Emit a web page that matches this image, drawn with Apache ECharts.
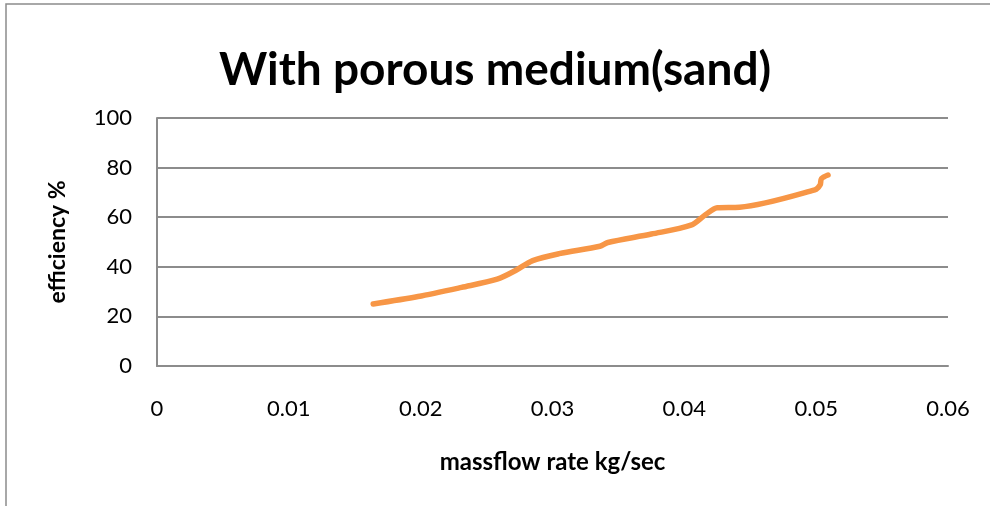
<!DOCTYPE html>
<html>
<head>
<meta charset="utf-8">
<script src="https://cdn.jsdelivr.net/npm/echarts@6/dist/echarts.min.js"></script>
<style>
  html, body { margin: 0; padding: 0; background: #fff; }
  #main { width: 990px; height: 506px; }
</style>
</head>
<body>
<div id="main"></div>
<script>
// massflow rate (kg/sec) vs efficiency (%)
var massflow = [0.0164, 0.0198, 0.0231, 0.0258, 0.0272, 0.0285, 0.0305, 0.0336, 0.0342, 0.0375, 0.0405, 0.0416, 0.0425, 0.0442, 0.0499, 0.0503, 0.0504, 0.0509];
var efficiency = [25, 28, 31.7, 35, 38.5, 42.5, 45.3, 48.3, 49.8, 53.2, 56.8, 61, 63.8, 64, 71, 73, 75.5, 77];
var xTicks = ['0', '0.01', '0.02', '0.03', '0.04', '0.05', '0.06'];

var myChart = echarts.init(document.getElementById('main'));

var points = massflow.map(function (m, i) {
    return [m, efficiency[i]];
});

var option = {
    animation: false,
    title: {
        text: 'With porous medium(sand)',
        left: 'center',
        top: 42,
        textStyle: {
            fontFamily: 'Lato',
            fontWeight: 'bold',
            fontSize: 46,
            color: '#000'
        }
    },
    graphic: [{
        type: 'rect',
        shape: { x: 6, y: 4, width: 1000, height: 600 },
        style: { fill: 'none', stroke: '#8c8c8c', lineWidth: 1.5 }
    }],
    grid: {
        left: 157,
        right: 42,
        top: 118,
        bottom: 140
    },
    xAxis: {
        type: 'value',
        min: 0,
        max: 0.06,
        interval: 0.01,
        name: 'massflow rate kg/sec',
        nameLocation: 'middle',
        nameGap: 84,
        nameTextStyle: { fontFamily: 'Lato', fontWeight: 'bold', fontSize: 24, color: '#000' },
        axisLine: { show: true, lineStyle: { color: '#8c8c8c', width: 2 } },
        axisTick: { show: false },
        splitLine: { show: false },
        axisLabel: {
            margin: 32,
            fontFamily: 'Lato',
            fontSize: 22,
            color: '#000',
            formatter: function (v, i) { return xTicks[i]; }
        }
    },
    yAxis: {
        type: 'value',
        min: 0,
        max: 100,
        interval: 20,
        name: 'efficiency %',
        nameLocation: 'middle',
        nameGap: 88,
        nameTextStyle: { fontFamily: 'Lato', fontWeight: 'bold', fontSize: 23, color: '#000' },
        axisLine: { show: true, lineStyle: { color: '#8c8c8c', width: 2 } },
        axisTick: { show: false },
        splitLine: { show: true, lineStyle: { color: '#8c8c8c', width: 2 } },
        axisLabel: {
            margin: 25,
            fontFamily: 'Lato',
            fontSize: 22,
            color: '#000'
        }
    },
    series: [{
        type: 'line',
        data: points,
        smooth: 0.3,
        showSymbol: false,
        lineStyle: { color: '#f79646', width: 5.5, cap: 'round' }
    }]
};

myChart.setOption(option);
</script>
</body>
</html>
